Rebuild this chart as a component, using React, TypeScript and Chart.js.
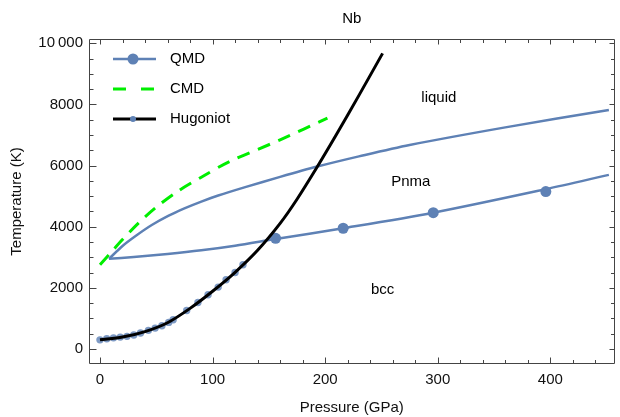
import React, { useEffect, useRef } from 'react';
import { Chart, registerables } from 'chart.js';

Chart.register(...registerables);

const BLUE = '#5E81B5';
const GREEN = 'rgb(0,238,0)';
const BLACK = '#000000';
const FRAME = '#444444';
const FONT = '"Liberation Sans", Arial, sans-serif';

const chartTitle = 'Nb';
const xLabel = 'Pressure (GPa)';
const yLabel = 'Temperature (K)';
const legendNames = ['QMD', 'CMD', 'Hugoniot'];

const xTickValues = [0, 100, 200, 300, 400];
const yTickValues = [0, 2000, 4000, 6000, 8000, 10000];
const yTickLabels = ['0', '2000', '4000', '6000', '8000', '10\u2009000'];

// QMD liquid / solid boundary
const liquidP = [8, 20, 31, 46, 61, 75, 90, 105, 129, 160, 193, 230, 275, 360, 452];
const liquidT = [2950, 3370, 3680, 4055, 4362, 4600, 4822, 5020, 5295, 5630, 5967, 6300, 6673, 7250, 7820];

// QMD bcc / Pnma boundary
const bccPnmaP = [8, 30, 60, 90, 120, 156, 216, 296, 396, 452];
const bccPnmaT = [2950, 3010, 3110, 3230, 3380, 3600, 3950, 4460, 5230, 5696];

// QMD points
const qmdP = [156, 216, 296, 396];
const qmdT = [3620, 3950, 4460, 5150];

// CMD melting curve
const cmdP = [0, 10, 20, 35, 50, 70, 90, 115, 160, 202];
const cmdT = [2755, 3170, 3580, 4150, 4640, 5180, 5620, 6130, 6840, 7549];

// Hugoniot curve
const hugLineP = [0, 20, 40, 60, 80, 100, 120, 140, 160, 175, 193, 210, 230, 251];
const hugLineT = [300, 390, 570, 860, 1330, 1890, 2510, 3230, 4110, 4900, 5962, 7016, 8296, 9670];

// Hugoniot points
const hugDotP = [0, 6, 12, 18, 24, 30, 36, 43, 49, 55, 61, 65, 77, 87, 96, 105, 112, 120, 127];
const hugDotT = [300, 335, 365, 390, 415, 460, 525, 610, 685, 760, 870, 955, 1260, 1520, 1775, 2025, 2265, 2505, 2755];

// Phase labels
const phaseNames = ['liquid', 'Pnma', 'bcc'];
const phaseP = [301, 276, 251];
const phaseT = [8200, 5480, 1950];

const xMin = -9.76;
const xMax = 457;
const yMin = -490;
const yMax = 10140;

const pts = (xs: number[], ys: number[]) => xs.map((x, i) => ({ x, y: ys[i] }));

const decorPlugin = {
  id: 'decor',
  afterDatasetsDraw(chart: any) {
    const { ctx, chartArea: a, scales } = chart;
    const xs = scales.x;
    const ys = scales.y;
    ctx.save();
    ctx.strokeStyle = FRAME;
    ctx.lineWidth = 1;
    const L = Math.round(a.left) + 0.5;
    const R = Math.round(a.right) - 0.5;
    const T = Math.round(a.top) + 0.5;
    const B = Math.round(a.bottom) - 0.5;
    ctx.beginPath();
    ctx.rect(L, T, R - L, B - T);
    ctx.stroke();
    ctx.beginPath();
    for (let v = 0; v <= xs.max; v += 20) {
      const major = v % 100 === 0;
      const px = Math.round(xs.getPixelForValue(v)) + 0.5;
      ctx.moveTo(px, B);
      ctx.lineTo(px, B - (major ? 6 : 3.5));
      ctx.moveTo(px, T);
      ctx.lineTo(px, T + (major ? 5 : 3.5));
    }
    for (let v = 0; v <= ys.max; v += 500) {
      const major = v % 2000 === 0;
      const py = Math.round(ys.getPixelForValue(v)) + 0.5;
      ctx.moveTo(L, py);
      ctx.lineTo(L + (major ? 7 : 4), py);
      ctx.moveTo(R, py);
      ctx.lineTo(R - (major ? 5 : 3.5), py);
    }
    ctx.stroke();
    ctx.restore();
  },
  afterDraw(chart: any) {
    const { ctx, chartArea: a, scales } = chart;
    ctx.save();
    ctx.fillStyle = '#000';
    ctx.font = `15px ${FONT}`;
    ctx.textBaseline = 'middle';
    ctx.textAlign = 'center';
    ctx.fillText(chartTitle, (a.left + a.right) / 2, 18.5);
    phaseNames.forEach((n, i) => {
      ctx.fillText(n, scales.x.getPixelForValue(phaseP[i]), scales.y.getPixelForValue(phaseT[i]));
    });
    ctx.textAlign = 'left';
    const x0 = a.left + 24;
    const x1 = a.left + 67;
    const xm = a.left + 44;
    const rows = [a.top + 20, a.top + 50, a.top + 80];
    ctx.strokeStyle = BLUE;
    ctx.lineWidth = 2.5;
    ctx.beginPath();
    ctx.moveTo(x0, rows[0]);
    ctx.lineTo(x1, rows[0]);
    ctx.stroke();
    ctx.fillStyle = BLUE;
    ctx.beginPath();
    ctx.arc(xm, rows[0], 5.5, 0, Math.PI * 2);
    ctx.fill();
    ctx.strokeStyle = GREEN;
    ctx.lineWidth = 3;
    ctx.setLineDash([13, 15]);
    ctx.beginPath();
    ctx.moveTo(x0, rows[1]);
    ctx.lineTo(x1, rows[1]);
    ctx.stroke();
    ctx.setLineDash([]);
    ctx.strokeStyle = BLACK;
    ctx.lineWidth = 3;
    ctx.beginPath();
    ctx.moveTo(x0, rows[2]);
    ctx.lineTo(x1, rows[2]);
    ctx.stroke();
    ctx.fillStyle = BLUE;
    ctx.beginPath();
    ctx.arc(xm, rows[2], 3, 0, Math.PI * 2);
    ctx.fill();
    ctx.fillStyle = '#000';
    legendNames.forEach((n, i) => ctx.fillText(n, a.left + 81, rows[i]));
    ctx.restore();
  },
};

export default function App() {
  const ref = useRef<HTMLCanvasElement | null>(null);
  useEffect(() => {
    if (!ref.current) return;
    Chart.defaults.font.family = FONT;
    const smooth = { tension: 0.3, pointRadius: 0 };
    const chart = new Chart(ref.current, {
      type: 'line',
      data: {
        datasets: [
          {
            label: 'Hugoniot',
            data: pts(hugLineP, hugLineT),
            borderColor: BLACK,
            borderWidth: 3,
            ...smooth,
            order: 0,
          },
          {
            label: 'Hugoniot points',
            data: pts(hugDotP, hugDotT),
            showLine: false,
            pointRadius: 3.7,
            pointBackgroundColor: 'rgba(94,129,181,0.8)',
            pointBorderWidth: 0,
            order: 1,
          },
          {
            label: 'QMD points',
            data: pts(qmdP, qmdT),
            showLine: false,
            pointRadius: 5.5,
            pointBackgroundColor: BLUE,
            pointBorderWidth: 0,
            order: 2,
          },
          {
            label: 'QMD liquid',
            data: pts(liquidP, liquidT),
            borderColor: BLUE,
            borderWidth: 2.5,
            ...smooth,
            order: 3,
          },
          {
            label: 'QMD bcc-Pnma',
            data: pts(bccPnmaP, bccPnmaT),
            borderColor: BLUE,
            borderWidth: 2.5,
            ...smooth,
            order: 3,
          },
          {
            label: 'CMD',
            data: pts(cmdP, cmdT),
            borderColor: GREEN,
            borderWidth: 3,
            borderDash: [13, 9],
            ...smooth,
            order: 4,
          },
        ],
      },
      options: {
        animation: false,
        responsive: false,
        devicePixelRatio: 1,
        layout: { padding: { left: 0, right: 5, top: 39, bottom: 0 } },
        plugins: {
          legend: { display: false },
          title: { display: false },
          tooltip: { enabled: false },
        },
        events: [],
        scales: {
          x: {
            type: 'linear',
            min: xMin,
            max: xMax,
            grid: { display: false, drawTicks: false },
            border: { display: false },
            afterBuildTicks: (s: any) => {
              s.ticks = xTickValues.map((value) => ({ value }));
            },
            ticks: {
              padding: 7,
              color: '#111',
              font: { size: 15, family: FONT },
              maxRotation: 0,
              autoSkip: false,
            },
            title: {
              display: true,
              text: xLabel,
              color: '#111',
              font: { size: 15, family: FONT },
              padding: { top: 0, bottom: 0 },
            },
            afterFit: (s: any) => {
              s.height = 53;
            },
          },
          y: {
            type: 'linear',
            min: yMin,
            max: yMax,
            grid: { display: false, drawTicks: false },
            border: { display: false },
            afterBuildTicks: (s: any) => {
              s.ticks = yTickValues.map((value) => ({ value }));
            },
            ticks: {
              padding: 6,
              color: '#111',
              autoSkip: false,
              font: { size: 15, family: FONT },
              callback: (v: any) => {
                const i = yTickValues.indexOf(Number(v));
                return i >= 0 ? yTickLabels[i] : '';
              },
            },
            title: {
              display: true,
              text: yLabel,
              color: '#111',
              font: { size: 15, family: FONT },
              padding: { top: 8, bottom: 0 },
            },
            afterFit: (s: any) => {
              s.width = 89;
            },
          },
        },
      },
      plugins: [decorPlugin],
    } as any);
    return () => chart.destroy();
  }, []);
  return (
    <div style={{ position: 'fixed', left: 0, top: 0, width: 620, height: 417, background: '#fff' }}>
      <canvas ref={ref} width={620} height={417} style={{ width: 620, height: 417, display: 'block' }} />
    </div>
  );
}
